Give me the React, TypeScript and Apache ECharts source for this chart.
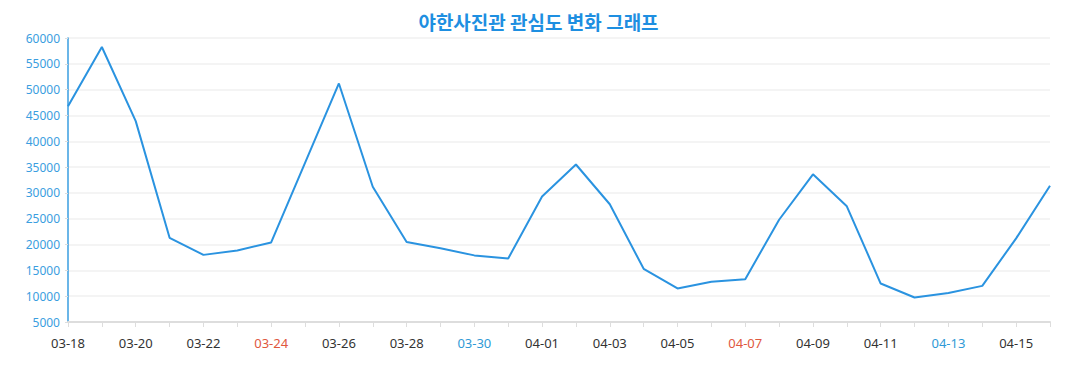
import React, { useEffect, useRef } from "react";
import * as echarts from "echarts";

const categories = [
  "03-18", "03-19", "03-20", "03-21", "03-22", "03-23", "03-24", "03-25", "03-26", "03-27",
  "03-28", "03-29", "03-30", "03-31", "04-01", "04-02", "04-03", "04-04", "04-05", "04-06",
  "04-07", "04-08", "04-09", "04-10", "04-11", "04-12", "04-13", "04-14", "04-15", "04-16",
];

const interest = [
  46800, 58250, 43900, 21300, 18000, 18850, 20400, 35800, 51200, 31200,
  20500, 19300, 17900, 17300, 29300, 35500, 27800, 15300, 11500, 12800,
  13300, 24800, 33600, 27400, 12450, 9750, 10600, 12000, 21200, 31400,
];

const redDays = ["03-24", "04-07"];
const blueDays = ["03-30", "04-13"];

export default function App() {
  const ref = useRef<HTMLDivElement>(null);
  useEffect(() => {
    document.body.style.margin = "0";
    const chart = echarts.init(ref.current!, null, { renderer: "svg" });
    chart.setOption({
      animation: false,
      title: {
        text: "야한사진관 관심도 변화 그래프",
        left: "center",
        top: 7,
        textStyle: {
          color: "#1e8fe1",
          fontSize: 19,
          fontWeight: "bold",
          fontFamily: "Noto Sans CJK KR",
        },
      },
      grid: { left: 68, right: 27, top: 38, bottom: 68, containLabel: false },
      xAxis: {
        type: "category",
        data: categories,
        boundaryGap: false,
        axisLine: { lineStyle: { color: "#dddddd", width: 2 } },
        axisTick: { interval: 0, lineStyle: { color: "#dddddd" }, length: 5 },
        axisLabel: {
          interval: 1,
          margin: 14,
          fontSize: 13,
          fontFamily: "Noto Sans",
          color: (v: string) =>
            redDays.includes(v) ? "#e0583d" : blueDays.includes(v) ? "#2f9ad6" : "#333333",
        },
      },
      yAxis: {
        type: "value",
        min: 5000,
        max: 60000,
        interval: 5000,
        axisLine: { show: true, lineStyle: { color: "#3a9ee0", width: 1.5 } },
        axisTick: { show: true, length: 3, lineStyle: { color: "#dddddd" } },
        axisLabel: {
          fontSize: 12,
          fontFamily: "Noto Sans",
          color: "#3a9ee0",
          margin: 8,
          formatter: (v: number) => String(v),
        },
        splitLine: { lineStyle: { color: "#f0f0f0", width: 1.5 } },
      },
      series: [
        {
          type: "line",
          data: interest,
          showSymbol: false,
          symbol: "none",
          lineStyle: { color: "#2a93e0", width: 2 },
        },
      ],
    });
    return () => chart.dispose();
  }, []);
  return (
    <div
      ref={ref}
      style={{ position: "absolute", left: 0, top: 0, width: 1077, height: 390 }}
    />
  );
}
